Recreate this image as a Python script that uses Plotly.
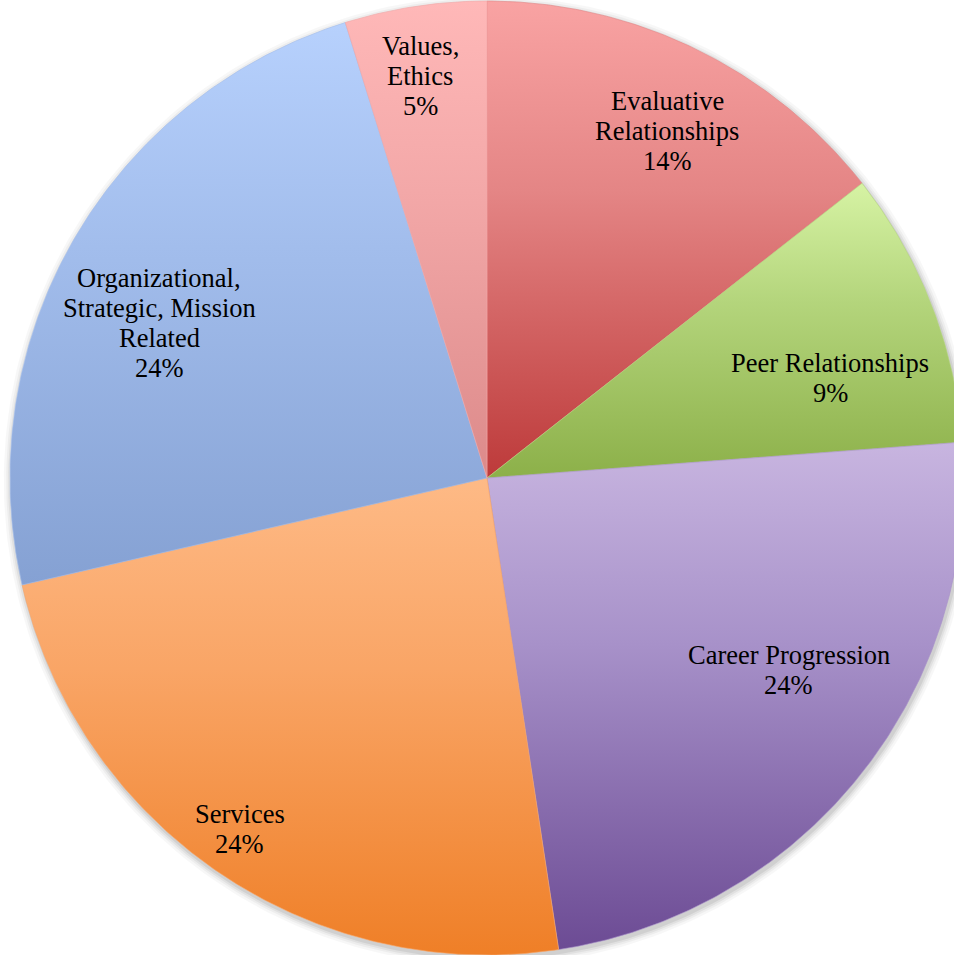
import numpy as np
import plotly.graph_objects as go

# Topic shares (percent), clockwise from 12 o'clock
categories = ["Evaluative Relationships", "Peer Relationships", "Career Progression",
              "Services", "Organizational, Strategic, Mission Related", "Values, Ethics"]
shares = [14.4, 9.4, 23.8, 23.8, 23.8, 4.8]

# Label text broken into lines as drawn inside each slice
label_lines = [
    ["Evaluative", "Relationships"],
    ["Peer Relationships"],
    ["Career Progression"],
    ["Services"],
    ["Organizational,", "Strategic, Mission", "Related"],
    ["Values,", "Ethics"],
]

# Vertical gradients per slice: (bottom, middle, top)
gradients = [
    ("#bd3a3a", "#e48585", "#f9a3a3"),
    ("#8cb049", "#b4d57c", "#d6f3a4"),
    ("#6c4b94", "#a791c9", "#c8b5e0"),
    ("#ef7f27", "#f9a566", "#feba86"),
    ("#85a1d3", "#a2bdec", "#b7d1fd"),
    ("#dc8a8a", "#f3a8a8", "#ffb8b8"),
]

# Label placement: radial fraction and angular nudge (degrees)
label_radius = [0.82, 0.75, 0.75, 0.90, 0.76, 0.855]
label_nudge = [1.5, 5.0, -6.0, 1.0, -4.5, -0.8]

total = sum(shares)
fracs = [s / total for s in shares]
bounds = np.concatenate([[0.0], np.cumsum(fracs)])

fig = go.Figure()

# soft drop shadow around the disc
for grow, alpha in [(0.016, 0.03), (0.011, 0.04), (0.007, 0.05), (0.003, 0.07)]:
    t = np.linspace(0, 2 * np.pi, 361)
    fig.add_trace(go.Scatter(
        x=(1 + grow) * np.sin(t) + 0.003, y=(1 + grow) * np.cos(t) - 0.006,
        mode="lines", fill="toself", line=dict(width=0),
        fillcolor=f"rgba(0,0,0,{alpha})", hoverinfo="skip", showlegend=False))

annotations = []
line_px = 30
for i, name in enumerate(categories):
    a0, a1 = bounds[i] * 2 * np.pi, bounds[i + 1] * 2 * np.pi
    n = max(8, int(np.degrees(a1 - a0) * 2))
    t = np.linspace(a0, a1, n)
    xs = np.concatenate([[0.0], np.sin(t), [0.0]])
    ys = np.concatenate([[0.0], np.cos(t), [0.0]])
    lo, mid, hi = gradients[i]
    fig.add_trace(go.Scatter(
        x=xs, y=ys, mode="lines", fill="toself", name=name,
        line=dict(width=0.6, color=mid),
        fillgradient=dict(type="vertical",
                          colorscale=[[0, lo], [0.6, mid], [1, hi]]),
        hoverinfo="name", showlegend=False))

    pct = f"{round(fracs[i] * 100)}%"
    lines = label_lines[i] + [pct]
    am = (a0 + a1) / 2 + np.radians(label_nudge[i])
    lx, ly = label_radius[i] * np.sin(am), label_radius[i] * np.cos(am)
    nl = len(lines)
    for j, txt in enumerate(lines):
        annotations.append(dict(
            x=lx, y=ly, xref="x", yref="y", text=txt, showarrow=False,
            xanchor="center", yanchor="middle",
            yshift=-(j - (nl - 1) / 2) * line_px,
            font=dict(family="Liberation Serif", size=26.5, color="black")))

fig.update_layout(
    width=954, height=955,
    margin=dict(l=0, r=0, t=0, b=0),
    paper_bgcolor="white", plot_bgcolor="white",
    xaxis=dict(range=[-487 / 477, (954 - 487) / 477], visible=False, fixedrange=True),
    yaxis=dict(range=[-(955 - 478) / 477, 478 / 477], visible=False, fixedrange=True),
    annotations=annotations,
    showlegend=False,
)

fig.write_html("out.html")
